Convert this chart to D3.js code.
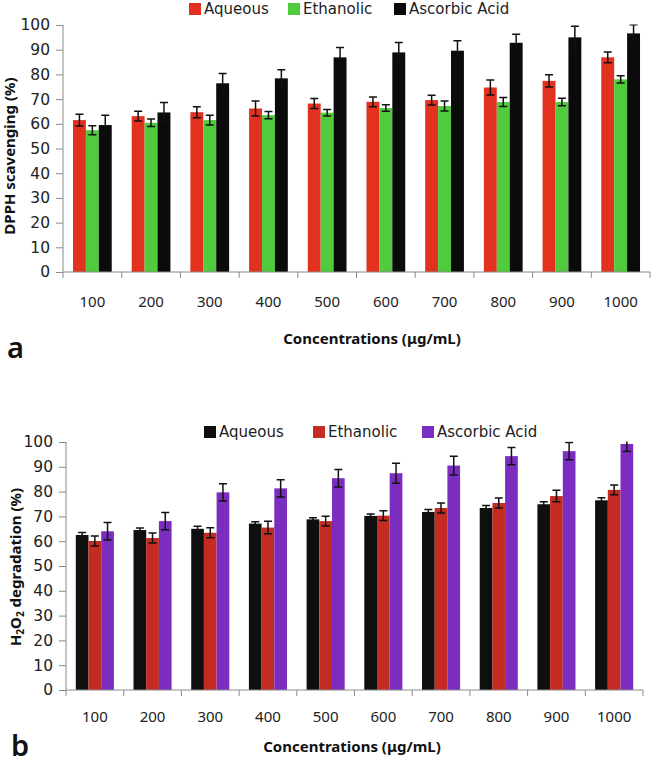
<!DOCTYPE html>
<html>
<head>
<meta charset="utf-8">
<script src="https://cdn.jsdelivr.net/npm/d3@7"></script>
<style>
  html, body { margin: 0; padding: 0; background: #fff; }
  svg { display: block; }
</style>
</head>
<body>
<svg id="chart" width="651" height="766"></svg>
<script>
// ---------- DATA ----------
const categories = ["100","200","300","400","500","600","700","800","900","1000"];
const yTicks = [0,10,20,30,40,50,60,70,80,90,100];

// Panel a: DPPH scavenging (%)
const dpphSeries = ["Aqueous","Ethanolic","Ascorbic Acid"];
const dpphAqueous      = [61.5, 63.1, 64.7, 66.2, 68.2, 68.9, 69.6, 74.7, 77.4, 86.9];
const dpphAqueousErr   = [2.4, 2.0, 2.2, 3.0, 2.0, 2.0, 2.0, 3.0, 2.5, 2.2];
const dpphEthanolic    = [57.4, 60.4, 61.5, 63.5, 64.5, 66.4, 67.2, 68.8, 68.8, 78.0];
const dpphEthanolicErr = [1.8, 1.5, 2.0, 1.5, 1.3, 1.3, 2.0, 1.8, 1.5, 1.5];
const dpphAscorbic     = [59.5, 64.6, 76.4, 78.4, 86.9, 88.9, 89.6, 92.8, 95.0, 96.6];
const dpphAscorbicErr  = [4.0, 4.0, 4.0, 3.5, 4.0, 4.0, 4.0, 3.5, 4.5, 3.5];
const dpphColors = ["#e2311f", "#4fcb3d", "#0b0b0b"];

// Panel b: H2O2 degradation (%)
const h2o2Series = ["Aqueous","Ethanolic","Ascorbic Acid"];
const h2o2Aqueous      = [62.5, 64.5, 65.0, 67.1, 68.8, 70.2, 71.8, 73.4, 74.9, 76.5];
const h2o2AqueousErr   = [1.0, 0.8, 1.0, 0.7, 0.7, 0.8, 1.0, 1.0, 1.0, 1.0];
const h2o2Ethanolic    = [60.1, 61.3, 63.4, 65.5, 68.1, 70.3, 73.4, 75.4, 78.2, 80.7];
const h2o2EthanolicErr = [2.0, 2.0, 2.0, 2.5, 2.0, 2.0, 2.0, 2.0, 2.3, 2.0];
const h2o2Ascorbic     = [64.0, 68.1, 79.7, 81.3, 85.4, 87.4, 90.5, 94.3, 96.3, 99.2];
const h2o2AscorbicErr  = [3.5, 3.5, 3.5, 3.5, 3.5, 4.0, 3.8, 3.5, 3.5, 3.0];
const h2o2Colors = ["#0f0f0f", "#c42c21", "#7b2dc0"];

const xTitle = "Concentrations (\u03BCg/mL)";

// ---------- DRAW ----------
const svg = d3.select("#chart");

function drawPanel(cfg) {
  const g = svg.append("g");
  const x0 = d3.scaleBand().domain(categories).range([cfg.left, cfg.right]).paddingInner(0.34).paddingOuter(0.17);
  const xb = d3.scaleBand().domain(categories).range([cfg.left, cfg.right]).padding(0);
  const x1 = d3.scaleBand().domain(cfg.series).range([0, x0.bandwidth()]);
  const y = d3.scaleLinear().domain([0, 100]).range([cfg.bottom, cfg.top]);

  const clipId = "clip-" + cfg.id;
  svg.append("defs").append("clipPath").attr("id", clipId)
    .append("rect").attr("x", cfg.left).attr("y", y(100) - 0.5)
    .attr("width", cfg.right - cfg.left).attr("height", cfg.bottom - y(100) + 1);

  // bars
  cfg.values.forEach((vals, si) => {
    g.append("g").selectAll("rect").data(vals).join("rect")
      .attr("x", (d, i) => x0(categories[i]) + x1(cfg.series[si]))
      .attr("y", d => y(d))
      .attr("width", x1.bandwidth())
      .attr("height", d => y(0) - y(d))
      .attr("fill", cfg.colors[si]);
  });

  // error bars
  const eg = g.append("g").attr("clip-path", `url(#${clipId})`)
    .attr("stroke", "#111").attr("stroke-width", 1.5).attr("fill", "none");
  cfg.values.forEach((vals, si) => {
    vals.forEach((v, i) => {
      const e = cfg.errors[si][i];
      const cx = x0(categories[i]) + x1(cfg.series[si]) + x1.bandwidth() / 2;
      const capW = 4;
      eg.append("line").attr("x1", cx).attr("x2", cx).attr("y1", y(v + e)).attr("y2", y(v - e));
      eg.append("line").attr("x1", cx - capW).attr("x2", cx + capW).attr("y1", y(v + e)).attr("y2", y(v + e));
      eg.append("line").attr("x1", cx - capW).attr("x2", cx + capW).attr("y1", y(v - e)).attr("y2", y(v - e));
    });
  });

  // y axis
  const yAxis = g.append("g").attr("transform", `translate(${cfg.left},0)`)
    .call(d3.axisLeft(y).tickValues(yTicks).tickSize(7).tickPadding(6));
  yAxis.selectAll("path, line").attr("stroke", "#8a8a8a");
  yAxis.select(".domain").attr("d", `M0,${y(0)}V${y(100)}`);
  yAxis.selectAll("text").attr("font-family", "DejaVu Sans, sans-serif")
    .attr("font-size", 15.5).attr("fill", "#222");

  // x axis line + ticks at band boundaries
  const xAxis = g.append("g").attr("transform", `translate(0,${y(0)})`);
  xAxis.append("line").attr("x1", cfg.left).attr("x2", cfg.right).attr("y1", 0).attr("y2", 0).attr("stroke", "#8a8a8a");
  const bounds = categories.map(c => xb(c)).concat([cfg.right]);
  xAxis.selectAll("line.t").data(bounds).join("line").attr("class", "t")
    .attr("x1", d => d).attr("x2", d => d).attr("y1", 0).attr("y2", 6).attr("stroke", "#8a8a8a");
  // category labels
  g.append("g").selectAll("text").data(categories).join("text")
    .attr("x", d => xb(d) + xb.bandwidth() / 2)
    .attr("y", cfg.labelY)
    .attr("text-anchor", "middle").attr("dominant-baseline", "middle")
    .attr("font-family", "Noto Sans, sans-serif").attr("font-size", 15).attr("fill", "#222")
    .text(d => d);

  // x title
  g.append("text").attr("x", cfg.xTitleX).attr("y", cfg.xTitleY)
    .attr("text-anchor", "middle").attr("dominant-baseline", "middle")
    .attr("font-family", "Noto Sans, sans-serif").attr("font-weight", "bold").attr("font-size", 15).attr("fill", "#111")
    .text(xTitle);

  // y title
  const yt = g.append("text")
    .attr("transform", `translate(${cfg.yTitleX},${cfg.yTitleY}) rotate(-90)`)
    .attr("text-anchor", "middle").attr("dominant-baseline", "middle")
    .attr("font-family", "Noto Sans, sans-serif").attr("font-weight", "bold").attr("font-size", 15).attr("fill", "#111");
  cfg.yTitle(yt);

  // legend
  const lg = g.append("g");
  cfg.series.forEach((s, si) => {
    const lx = cfg.legendX[si];
    lg.append("rect").attr("x", lx).attr("y", cfg.legendY - 6).attr("width", 12).attr("height", 12).attr("fill", cfg.colors[si]);
    lg.append("text").attr("x", lx + 15).attr("y", cfg.legendY)
      .attr("dominant-baseline", "middle")
      .attr("font-family", "DejaVu Sans, sans-serif").attr("font-size", 15).attr("fill", "#222")
      .text(s);
  });

  // panel letter
  g.append("text").attr("x", cfg.letterX).attr("y", cfg.letterY)
    .attr("font-family", "Noto Sans, sans-serif").attr("font-weight", 600).attr("font-size", 29).attr("fill", "#111")
    .text(cfg.letter);
}

drawPanel({
  id: "a", letter: "a",
  left: 63, right: 650, top: 25, bottom: 272,
  series: dpphSeries, colors: dpphColors,
  values: [dpphAqueous, dpphEthanolic, dpphAscorbic],
  errors: [dpphAqueousErr, dpphEthanolicErr, dpphAscorbicErr],
  labelY: 303, xTitleX: 372, xTitleY: 340,
  yTitleX: 11, yTitleY: 156,
  yTitle: t => t.text("DPPH scavenging  (%)"),
  legendX: [189, 288, 394], legendY: 9,
  letterX: 7, letterY: 358
});

drawPanel({
  id: "b", letter: "b",
  left: 66, right: 643, top: 442, bottom: 690,
  series: h2o2Series, colors: h2o2Colors,
  values: [h2o2Aqueous, h2o2Ethanolic, h2o2Ascorbic],
  errors: [h2o2AqueousErr, h2o2EthanolicErr, h2o2AscorbicErr],
  labelY: 718, xTitleX: 352, xTitleY: 748,
  yTitleX: 17, yTitleY: 567,
  yTitle: t => {
    t.append("tspan").text("H");
    t.append("tspan").attr("font-size", 10).attr("dy", 4).text("2");
    t.append("tspan").attr("dy", -4).text("O");
    t.append("tspan").attr("font-size", 10).attr("dy", 4).text("2");
    t.append("tspan").attr("dy", -4).text(" degradation (%)");
  },
  legendX: [204, 313, 422], legendY: 432,
  letterX: 11, letterY: 756
});
</script>
</body>
</html>
